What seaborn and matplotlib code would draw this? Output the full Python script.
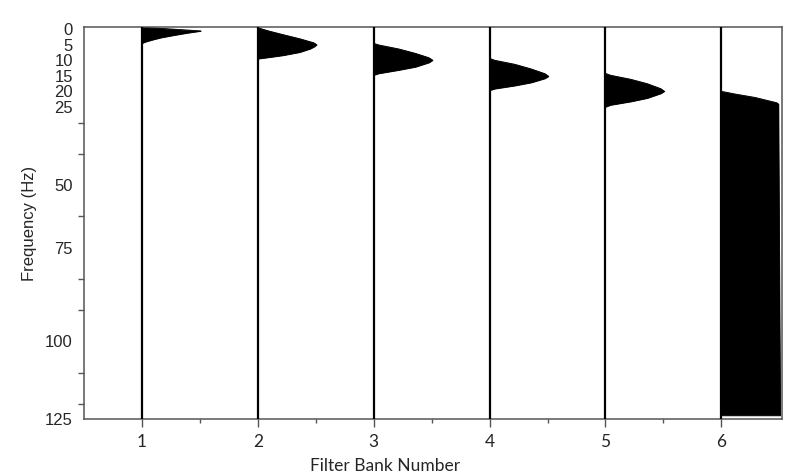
import numpy as np
import pandas as pd
import matplotlib
matplotlib.use("Agg")
import matplotlib.pyplot as plt
import seaborn as sns

# ---- data ----
banks = [1, 2, 3, 4, 5, 6]
bank1_freq = [-0.6, 0.0, 0.6, 1.2, 2.0, 2.7, 3.3, 4.0, 4.5]
bank1_resp = [0.0, 0.5, 1.0, 0.78, 0.53, 0.33, 0.2, 0.07, 0.0]
bank2_freq = [-0.4, 0.7, 1.8, 3.1, 4.4, 5.0, 5.6, 6.3, 7.4, 8.4, 9.0, 9.5]
bank2_resp = [0.0, 0.2, 0.43, 0.71, 0.95, 1.0, 0.96, 0.89, 0.71, 0.43, 0.2, 0.0]
bank3_freq = [4.6, 5.1, 6.4, 7.8, 9.2, 9.95, 10.7, 12.1, 13.1, 14.2, 14.7]
bank3_resp = [0.0, 0.085, 0.43, 0.71, 0.94, 1.0, 0.94, 0.71, 0.43, 0.085, 0.0]
bank4_freq = [9.4, 10.0, 11.3, 12.8, 14.3, 15.1, 15.8, 17.1, 18.1, 19.1, 19.6]
bank4_resp = [0.0, 0.085, 0.43, 0.71, 0.94, 1.0, 0.94, 0.71, 0.43, 0.085, 0.0]
bank5_freq = [14.2, 14.8, 16.1, 17.5, 19.1, 19.9, 20.6, 22.1, 23.2, 24.3, 24.9]
bank5_resp = [0.0, 0.085, 0.43, 0.71, 0.94, 1.0, 0.94, 0.71, 0.43, 0.085, 0.0]
bank6_freq = [20.0, 20.1, 20.8, 21.9, 23.6, 24.0, 60.0, 123.7]
bank6_resp = [0.0, 0.04, 0.23, 0.57, 0.94, 0.97, 0.98, 1.0]

freq_tick_pos = [0, 5, 10, 15, 20, 25, 50, 70, 100, 125]
freq_tick_labels = ["0", "5", "10", "15", "20", "25", "50", "75", "100", "125"]

bank_freqs = [bank1_freq, bank2_freq, bank3_freq, bank4_freq, bank5_freq, bank6_freq]
bank_resps = [bank1_resp, bank2_resp, bank3_resp, bank4_resp, bank5_resp, bank6_resp]

rows = []
for b, fr, rs in zip(banks, bank_freqs, bank_resps):
    for f, r in zip(fr, rs):
        rows.append({"bank": b, "freq": f, "resp": r})
df = pd.DataFrame(rows)

# ---- styling ----
sns.set_theme(style="ticks")
plt.rcParams["font.family"] = ["Liberation Sans", "DejaVu Sans"]

AMP = 0.507
fig = plt.figure(figsize=(8.0, 4.76), dpi=100)
ax = fig.add_axes([0.105, 0.119, 0.872, 0.825])

df["x"] = df["bank"] + AMP * df["resp"]
for b in banks:
    sub = df[df["bank"] == b]
    ax.fill_betweenx(sub["freq"], b, sub["x"], color="black", lw=0.6, edgecolor="black")
    sns.lineplot(data=sub, x="x", y="freq", sort=False, estimator=None,
                 orient="y", color="black", lw=0.6, ax=ax)
    ax.axvline(b, color="black", lw=1.6, zorder=3)

ax.set_xlim(0.5, 6.52)
ax.set_ylim(125, -0.75)

ax.set_xticks(banks)
ax.set_xticklabels([str(b) for b in banks], family=["Lato", "DejaVu Sans"], fontsize=12.5)
ax.set_xticks([1.5, 2.5, 3.5, 4.5, 5.5], minor=True)
ax.tick_params(axis="x", which="major", length=5.5, width=1.0, color="#555555", pad=5)
ax.tick_params(axis="x", which="minor", length=3, width=1.0, color="#555555")

ax.set_yticks(freq_tick_pos)
ax.set_yticklabels(freq_tick_labels, fontsize=12)
ax.set_yticks(list(range(0, 121, 10)), minor=True)
ax.tick_params(axis="y", which="major", length=0, pad=8)
ax.tick_params(axis="y", which="minor", length=4.5, width=1.0, color="#555555")

for s in ax.spines.values():
    s.set_color("#555555")
    s.set_linewidth(1.1)

ax.set_xlabel("Filter Bank Number", family=["Lato", "DejaVu Sans"], fontsize=12.5)
ax.xaxis.set_label_coords(0.432, -0.098)
ax.set_ylabel("Frequency (Hz)", fontsize=12, labelpad=6)

fig.savefig("out.png", dpi=100)
